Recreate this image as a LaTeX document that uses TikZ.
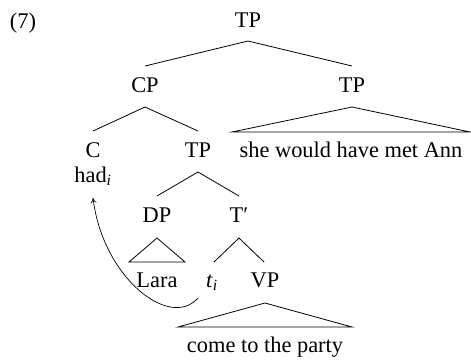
\documentclass[tikz,border=0pt]{standalone}
\usepackage{fontspec}
\setmainfont{Liberation Serif}
\usetikzlibrary{calc,arrows.meta}
\begin{document}
\begin{tikzpicture}[x=1pt,y=1pt,
  font=\fontsize{22.4}{26}\selectfont,
  lbl/.style={anchor=base,inner sep=0pt},
  edge/.style={line width=0.8pt},
  mv/.style={line width=0.7pt,-{To[length=5pt,width=6pt]}}]
\useasboundingbox (0,0) rectangle (471,-360);
% labels
\node[lbl] (ex) at (23,-28) {(7)};
\node[lbl] (tp0) at (248,-27) {TP};
\node[lbl] (cp) at (145,-92) {CP};
\node[lbl] (tpr) at (352,-92) {TP};
\node[lbl] (she) at (351,-157) {she would have met Ann};
\node[lbl] (c) at (93,-157) {C};
\node[lbl] (had) at (93,-182) {had\textsubscript{\textit{i}}};
\node[lbl] (tp1) at (198,-157) {TP};
\node[lbl] (dp) at (157,-222) {DP};
\node[lbl] (tbar) at (239,-222) {T′};
\node[lbl] (lara) at (157,-287) {Lara};
\node[lbl] (ti) at (212,-287) {\textit{t}\textsubscript{\textit{i}}};
\node[lbl] (vp) at (265,-287) {VP};
\node[lbl] (come) at (265,-352) {come to the party};
% branches
\draw[edge] ($(cp.base)+(0,26)$) -- ($(tp0.base)+(0,-14)$) -- ($(tpr.base)+(0,26)$);
\draw[edge] ($(c.base)+(0,26)$) -- ($(cp.base)+(0,-15)$) -- ($(tp1.base)+(0,26)$);
\draw[edge] ($(dp.base)+(0,26)$) -- ($(tp1.base)+(0,-15)$) -- ($(tbar.base)+(0,26)$);
\draw[edge] ($(ti.base)+(2,25)$) -- ($(tbar.base)+(0,-16)$) -- ($(vp.base)+(-1,25)$);
% triangles
\draw[edge] ($(tpr.base)+(0,-15)$) -- ($(she.base)+(-119,25)$) -- ($(she.base)+(119,25)$) -- cycle;
\draw[edge] ($(dp.base)+(0,-16)$) -- ($(lara.base)+(-28,25)$) -- ($(lara.base)+(28,25)$) -- cycle;
\draw[edge] ($(vp.base)+(0,-16)$) -- ($(come.base)+(-87,25)$) -- ($(come.base)+(87,25)$) -- cycle;
% movement arrow
\coordinate (mstart) at ($(ti.base)+(-14,-11)$);
\coordinate (mend) at ($(had.base)+(0,-16)$);
\draw[mv] (mstart) .. controls ($(mstart)+(-28,-32)$) and ($(mend)+(10,-80)$) .. (mend);
\end{tikzpicture}
\end{document}
